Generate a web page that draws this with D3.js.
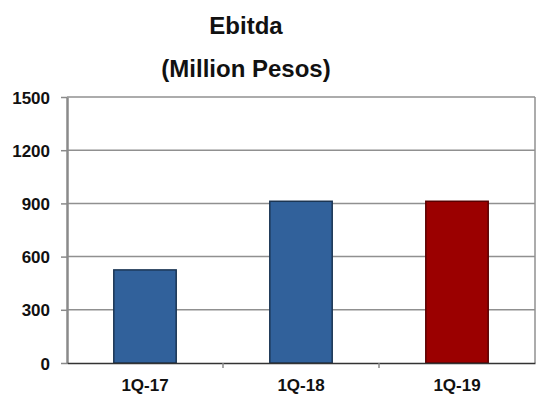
<!DOCTYPE html>
<html>
<head>
<meta charset="utf-8">
<script src="https://cdn.jsdelivr.net/npm/d3@7"></script>
<style>
  body { margin: 0; background: #fff; }
  text { font-family: "Liberation Sans", Arial, sans-serif; font-weight: bold; fill: #111; }
</style>
</head>
<body>
<script>
// chart data
const quarters = ["1Q-17", "1Q-18", "1Q-19"];
const ebitda = [525, 912, 912];
const barColors = ["#31619b", "#31619b", "#9b0000"];
const barStrokes = ["#1b3553", "#1b3553", "#5a0000"];
const yTicks = [0, 300, 600, 900, 1200, 1500];

const W = 537, H = 395;
const plot = { left: 67, right: 535, top: 97, bottom: 363 };

const svg = d3.select("body").append("svg")
    .attr("width", W)
    .attr("height", H);

const x = d3.scaleBand()
    .domain(quarters)
    .range([plot.left, plot.right])
    .paddingInner(0.6)
    .paddingOuter(0.3);

const y = d3.scaleLinear()
    .domain([0, 1500])
    .range([plot.bottom, plot.top]);

// titles
svg.append("text")
    .attr("x", 246).attr("y", 34)
    .attr("text-anchor", "middle")
    .style("font-size", "24px")
    .text("Ebitda");

svg.append("text")
    .attr("x", 246).attr("y", 77)
    .attr("text-anchor", "middle")
    .style("font-size", "24px")
    .text("(Million Pesos)");

// gridlines
svg.append("g")
    .selectAll("line")
    .data(yTicks.filter(d => d > 0))
    .join("line")
    .attr("x1", plot.left).attr("x2", plot.right)
    .attr("y1", d => y(d)).attr("y2", d => y(d))
    .attr("stroke", "#909090")
    .attr("stroke-width", 1.5);

// right border
svg.append("line")
    .attr("x1", plot.right).attr("x2", plot.right)
    .attr("y1", plot.top).attr("y2", plot.bottom)
    .attr("stroke", "#909090")
    .attr("stroke-width", 1.5);

// bars
svg.append("g")
    .selectAll("rect")
    .data(quarters)
    .join("rect")
    .attr("x", d => x(d))
    .attr("y", (d, i) => y(ebitda[i]))
    .attr("width", x.bandwidth())
    .attr("height", (d, i) => y(0) - y(ebitda[i]))
    .attr("fill", (d, i) => barColors[i])
    .attr("stroke", (d, i) => barStrokes[i])
    .attr("stroke-width", 1.5);

// y axis
const yAxis = svg.append("g")
    .attr("transform", `translate(${plot.left},0)`)
    .call(d3.axisLeft(y).tickValues(yTicks).tickFormat(d3.format("d"))
        .tickSize(6).tickPadding(11).tickSizeOuter(0));
yAxis.select(".domain").attr("stroke", "#8a8a8a").attr("stroke-width", 2.5);
yAxis.selectAll(".tick line").attr("stroke", "#8a8a8a").attr("stroke-width", 1.5);
yAxis.selectAll("text").style("font-size", "17px").attr("dy", "0.36em");

// x axis
const xAxis = svg.append("g")
    .attr("transform", `translate(0,${plot.bottom})`)
    .call(d3.axisBottom(x).tickSize(0).tickPadding(16));
xAxis.select(".domain").attr("stroke", "#333").attr("stroke-width", 1.5);
xAxis.selectAll("text").style("font-size", "17px");

// small ticks between categories
const bounds = quarters.slice(1).map(d => x(d) - x.step() * x.paddingInner() / 2);
svg.append("g")
    .selectAll("line")
    .data(bounds)
    .join("line")
    .attr("x1", d => d).attr("x2", d => d)
    .attr("y1", plot.bottom).attr("y2", plot.bottom + 5)
    .attr("stroke", "#8a8a8a")
    .attr("stroke-width", 1.5);
</script>
</body>
</html>
